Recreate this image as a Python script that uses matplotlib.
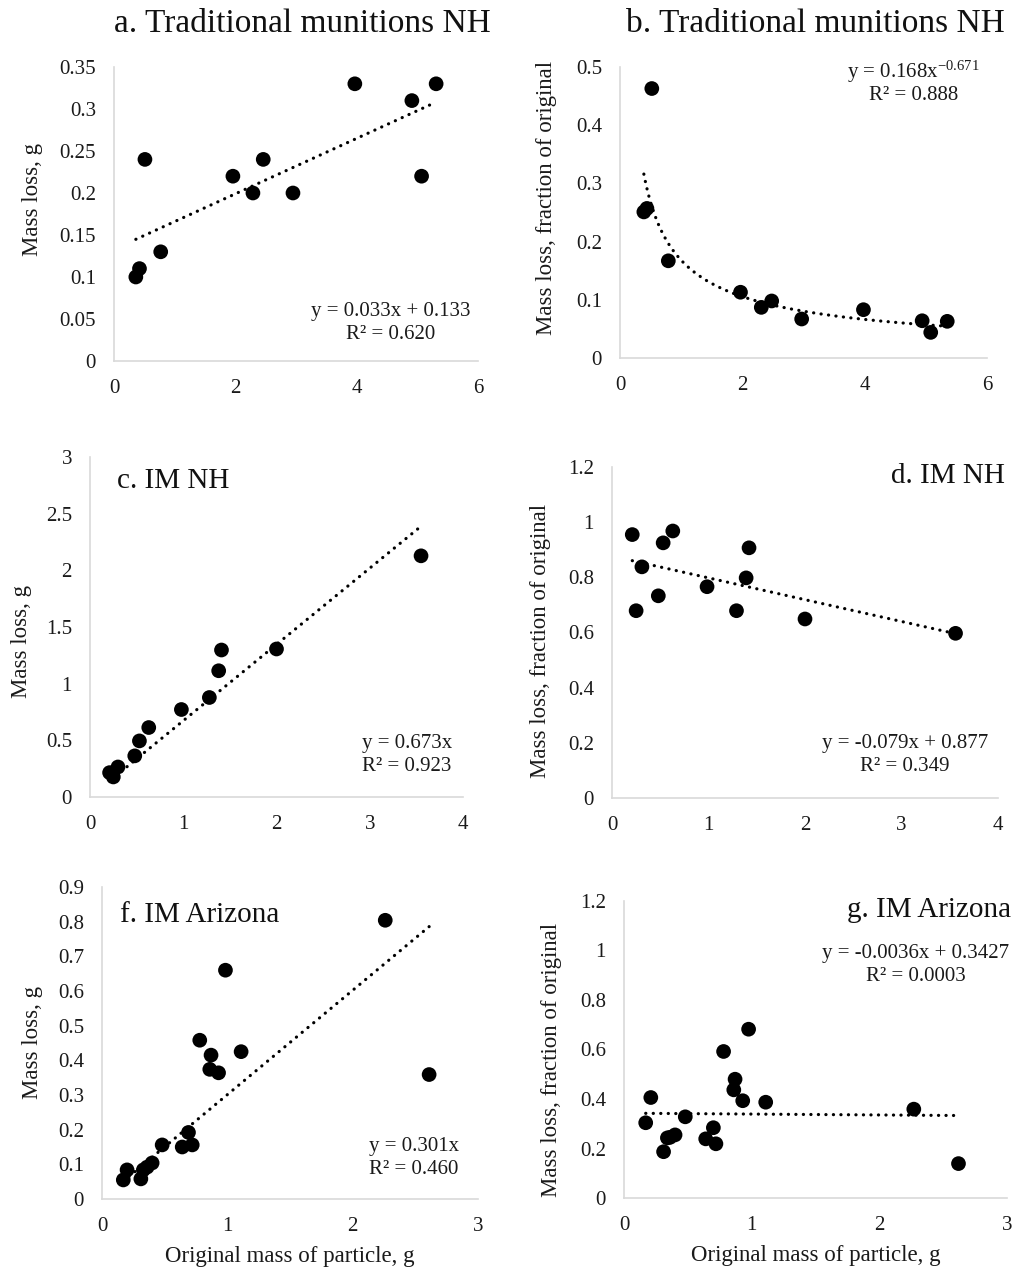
import numpy as np
import matplotlib
matplotlib.use("Agg")
import matplotlib.pyplot as plt
from matplotlib.ticker import FuncFormatter, MultipleLocator

plt.rcParams['font.family'] = ['Liberation Serif', 'DejaVu Serif']
plt.rcParams['mathtext.fontset'] = 'custom'
plt.rcParams['mathtext.rm'] = 'Liberation Serif'
plt.rcParams['mathtext.default'] = 'regular'

# a. Traditional munitions NH, mass loss (g)
a_x = [0.36, 0.42, 0.51, 0.77, 1.96, 2.29, 2.46, 2.95, 3.97, 4.91, 5.07, 5.31]
a_y = [0.100, 0.110, 0.240, 0.130, 0.220, 0.200, 0.240, 0.200, 0.330, 0.310, 0.220, 0.330]
# b. Traditional munitions NH, fraction of original
b_x = [0.39, 0.44, 0.52, 0.79, 1.97, 2.31, 2.48, 2.97, 3.98, 4.94, 5.08, 5.35]
b_y = [0.251, 0.257, 0.463, 0.167, 0.113, 0.087, 0.098, 0.067, 0.083, 0.064, 0.044, 0.063]
# c. IM NH, mass loss (g)
c_x = [0.21, 0.25, 0.30, 0.48, 0.53, 0.63, 0.98, 1.28, 1.38, 1.41, 2.00, 3.55]
c_y = [0.215, 0.177, 0.265, 0.363, 0.495, 0.613, 0.772, 0.878, 1.114, 1.297, 1.306, 2.128]
# d. IM NH, fraction of original
d_x = [0.21, 0.25, 0.31, 0.48, 0.53, 0.63, 0.985, 1.29, 1.39, 1.42, 2.00, 3.56]
d_y = [0.955, 0.679, 0.838, 0.733, 0.925, 0.968, 0.766, 0.679, 0.798, 0.907, 0.649, 0.597]
# f. IM Arizona, mass loss (g)
f_x = [0.17, 0.20, 0.31, 0.33, 0.36, 0.40, 0.48, 0.64, 0.69, 0.72, 0.78, 0.86, 0.87,
       0.93, 0.985, 1.11, 2.26, 2.61]
f_y = [0.055, 0.084, 0.058, 0.084, 0.092, 0.104, 0.156, 0.150, 0.192, 0.156, 0.458,
       0.374, 0.415, 0.364, 0.660, 0.425, 0.804, 0.359]
# g. IM Arizona, fraction of original
g_x = [0.17, 0.21, 0.31, 0.34, 0.36, 0.40, 0.48, 0.64, 0.70, 0.72, 0.78, 0.86, 0.87,
       0.93, 0.976, 1.11, 2.27, 2.62]
g_y = [0.304, 0.406, 0.187, 0.243, 0.245, 0.255, 0.328, 0.239, 0.284, 0.219, 0.592,
       0.437, 0.480, 0.393, 0.682, 0.387, 0.359, 0.139]

# trendline coefficients printed on the chart
a_fit = (0.033, 0.133)
b_fit = (0.168, -0.671)
c_fit = (0.673, 0.0)
d_fit = (-0.079, 0.877)
f_fit = (0.301, 0.0)
g_fit = (-0.0036, 0.3427)

W, H = 1016, 1270
fig = plt.figure(figsize=(W / 100, H / 100), dpi=100)


def px_axes(x0, x1, ytop, ybot):
    return fig.add_axes([x0 / W, 1 - ybot / H, (x1 - x0) / W, (ybot - ytop) / H])


def fmt(v, pos):
    return f"{round(v, 4):g}"


def style(ax, xmax, xstep, ymax, ystep, ylabel, ylab_y, ylab_x, xlabel=None):
    ax.set_xlim(0, xmax)
    ax.set_ylim(0, ymax)
    ax.xaxis.set_major_locator(MultipleLocator(xstep))
    ax.yaxis.set_major_locator(MultipleLocator(ystep))
    ax.xaxis.set_major_formatter(FuncFormatter(fmt))
    ax.yaxis.set_major_formatter(FuncFormatter(fmt))
    for s in ['top', 'right']:
        ax.spines[s].set_visible(False)
    for s in ['left', 'bottom']:
        ax.spines[s].set_color('#d9d9d9')
        ax.spines[s].set_linewidth(1.2)
    ax.tick_params(length=0, labelsize=15, pad=13, colors='#1a1a1a')
    ax.set_ylabel(ylabel, fontsize=16.5, color='#1a1a1a', va='center')
    ax.yaxis.set_label_coords(ylab_x, ylab_y)
    if xlabel:
        ax.set_xlabel(xlabel, fontsize=16.5, color='#1a1a1a', labelpad=7)
    ax.set_facecolor('none')


def scatter(ax, x, y):
    ax.scatter(x, y, s=112, color='black', zorder=3, edgecolors='none')


def dotted(ax, x, y):
    ax.plot(x, y, color='black', linestyle=(0, (0.05, 2.3)), lw=2.3,
            dash_capstyle='round', zorder=2)


def lin(ax, x, coef):
    xs = np.array([min(x), max(x)])
    dotted(ax, xs, coef[0] * xs + coef[1])


def eq(x, y, s, ha='center'):
    fig.text(x / W, 1 - y / H, s, ha=ha, va='center', fontsize=15,
             linespacing=1.3, color='#1a1a1a')


# panel a
ax = px_axes(114, 478, 67, 361)
scatter(ax, a_x, a_y)
lin(ax, a_x, a_fit)
style(ax, 6, 2, 0.35, 0.05, 'Mass loss, g', 0.55, -0.225)
eq(391, 323, 'y = 0.033x + 0.133\nR² = 0.620')
fig.text(302 / W, 1 - 32 / H, 'a. Traditional munitions NH', ha='center', va='baseline',
         fontsize=24, color='#111111')

# panel b
ax = px_axes(620, 987, 67, 358)
scatter(ax, b_x, b_y)
xs = np.linspace(min(b_x), max(b_x), 200)
dotted(ax, xs, b_fit[0] * xs ** b_fit[1])
style(ax, 6, 2, 0.5, 0.1, 'Mass loss, fraction of original', 0.55, -0.2)
eq(913, 72, 'y = 0.168x$^{-0.671}$')
eq(914, 96, 'R² = 0.888')
fig.text(815 / W, 1 - 32 / H, 'b. Traditional munitions NH', ha='center', va='baseline',
         fontsize=24, color='#111111')

# panel c
ax = px_axes(90, 463, 457, 797)
scatter(ax, c_x, c_y)
lin(ax, c_x, c_fit)
style(ax, 4, 1, 3, 0.5, 'Mass loss, g', 0.456, -0.183)
eq(362, 755, 'y = 0.673x\nR² = 0.923', ha='left')
fig.text(117 / W, 1 - 488 / H, 'c. IM NH', ha='left', va='baseline',
         fontsize=21, color='#111111')

# panel d
ax = px_axes(612, 998, 467, 798)
scatter(ax, d_x, d_y)
lin(ax, d_x, d_fit)
style(ax, 4, 1, 1.2, 0.2, 'Mass loss, fraction of original', 0.474, -0.184)
eq(905, 755, 'y = -0.079x + 0.877\nR² = 0.349')
fig.text(1005 / W, 1 - 483 / H, 'd. IM NH', ha='right', va='baseline',
         fontsize=21, color='#111111')

# panel f
ax = px_axes(102, 478, 887, 1199)
scatter(ax, f_x, f_y)
lin(ax, f_x, f_fit)
style(ax, 3, 1, 0.9, 0.1, 'Mass loss, g', 0.503, -0.186,
      xlabel='Original mass of particle, g')
eq(369, 1158, 'y = 0.301x\nR² = 0.460', ha='left')
fig.text(120 / W, 1 - 922 / H, 'f. IM Arizona', ha='left', va='baseline',
         fontsize=21, color='#111111')

# panel g
ax = px_axes(624, 1007, 901, 1198)
scatter(ax, g_x, g_y)
lin(ax, g_x, g_fit)
style(ax, 3, 1, 1.2, 0.2, 'Mass loss, fraction of original', 0.465, -0.19,
      xlabel='Original mass of particle, g')
eq(916, 965, 'y = -0.0036x + 0.3427\nR² = 0.0003')
fig.text(1011 / W, 1 - 917 / H, 'g. IM Arizona', ha='right', va='baseline',
         fontsize=21, color='#111111')

fig.savefig('out.png', dpi=100, facecolor='white')
